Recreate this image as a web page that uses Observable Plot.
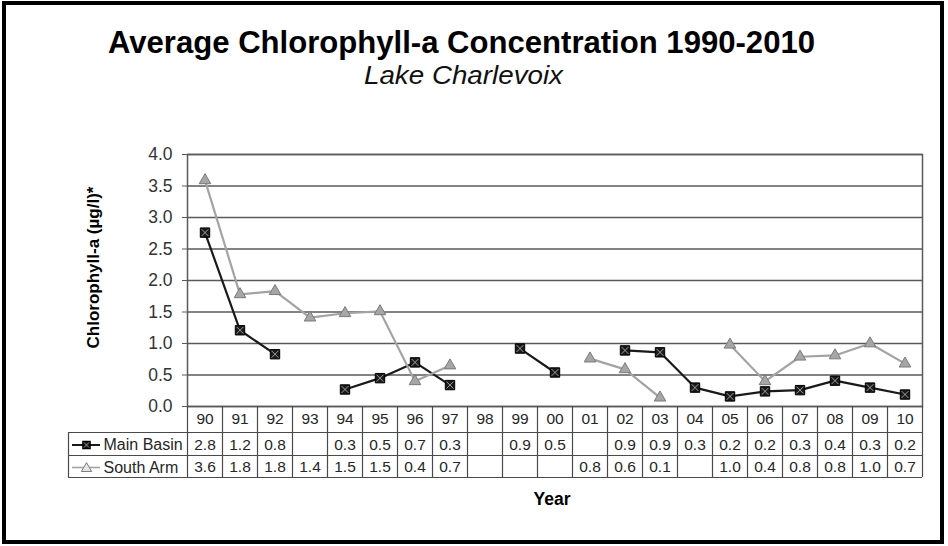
<!DOCTYPE html>
<html><head><meta charset="utf-8">
<script src="https://cdn.jsdelivr.net/npm/d3@7"></script>
<script src="https://cdn.jsdelivr.net/npm/@observablehq/plot@0.6"></script>
<style>
html,body{margin:0;padding:0;background:#fff;}
#wrap{position:relative;width:948px;height:546px;overflow:hidden;font-family:"Liberation Sans",Arial,sans-serif;background:#fff;}
#border{position:absolute;left:2px;top:1px;width:942px;height:543px;border:4px solid #000;box-sizing:border-box;}
.t{position:absolute;white-space:nowrap;line-height:1;transform-origin:0 0;color:#000;}
#title{font-size:31px;font-weight:bold;}
#subtitle{font-size:26px;font-style:italic;color:#111;}
#chart{position:absolute;left:0;top:0;}
</style></head><body>
<div id="wrap"><div id="chart"></div><div id="border"></div>
<div id="title" class="t">Average Chlorophyll-a Concentration 1990-2010</div>
<div id="subtitle" class="t">Lake Charlevoix</div></div>
<script>
// ---- data ----
const years = ["90","91","92","93","94","95","96","97","98","99","00","01","02","03","04","05","06","07","08","09","10"];
const mainBasin = [2.76,1.21,0.83,null,0.27,0.45,0.70,0.34,null,0.92,0.54,null,0.89,0.86,0.30,0.16,0.24,0.26,0.41,0.30,0.19];
const southArm  = [3.59,1.78,1.83,1.41,1.48,1.51,0.40,0.65,null,null,null,0.76,0.59,0.14,null,0.98,0.40,0.79,0.81,1.00,0.68];
const mainBasinLabels = ["2.8","1.2","0.8","","0.3","0.5","0.7","0.3","","0.9","0.5","","0.9","0.9","0.3","0.2","0.2","0.3","0.4","0.3","0.2"];
const southArmLabels  = ["3.6","1.8","1.8","1.4","1.5","1.5","0.4","0.7","","","","0.8","0.6","0.1","","1.0","0.4","0.8","0.8","1.0","0.7"];
const yTicks = [0,0.5,1,1.5,2,2.5,3,3.5,4];
const seriesNames = ["Main Basin","South Arm"];

// ---- layout ----
const W=948,H=546,mL=187,mR=26,mT=154,mB=140;
const rowText=[13,38.5,61];   // offsets below the zero line (table rows)
const rowLine=[26,49,71];
const legendLeft=68;
const font='"Liberation Sans",Arial,sans-serif';
const ink="#222", grid="#5a5a5a", tline="#4a4a4a";
const mbColor="#1a1a1a", saStroke="#a3a3a3", saFill="#a6a6a6", saEdge="#7a7a7a";

const rows = years.map((y,i)=>({i, year:y, mb:mainBasin[i], sa:southArm[i], mbl:mainBasinLabels[i], sal:southArmLabels[i]}));
const bounds = d3.range(years.length+1).map(k=>k-0.5);
const x0 = -0.5;

const plot = Plot.plot({
  width:W, height:H, marginLeft:mL, marginRight:mR, marginTop:mT, marginBottom:mB,
  x:{domain:[-0.5, years.length-0.5], axis:null},
  y:{domain:[0,4], axis:null},
  style:{fontFamily:font, background:"transparent", overflow:"visible", color:ink},
  marks:[
    // grid + frame
    Plot.ruleY(yTicks, {stroke:grid, strokeWidth:1.5}),
    Plot.frame({stroke:grid, strokeWidth:1.5}),
    Plot.axisY({ticks:yTicks, tickFormat:d=>d.toFixed(1), tickSize:5, tickPadding:10, fontSize:17.5, label:null, stroke:grid, fill:"#333"}),
    // table lines
    Plot.ruleX(bounds, {y1:0, y2:0, insetBottom:-rowLine[2], stroke:tline, strokeWidth:1.2}),
    Plot.ruleX([x0], {y1:0, y2:0, insetTop:rowLine[0], insetBottom:-rowLine[2], dx:legendLeft-mL, stroke:tline, strokeWidth:1.2}),
    ...rowLine.map(o=>Plot.ruleY([0], {dy:o, insetLeft:legendLeft-mL, stroke:tline, strokeWidth:1.2})),
    // table text
    Plot.text(rows, {x:"i", text:"year", frameAnchor:"bottom", lineAnchor:"middle", dy:rowText[0], fontSize:15.5, fill:"#262626"}),
    Plot.text(rows, {x:"i", text:"mbl", frameAnchor:"bottom", lineAnchor:"middle", dy:rowText[1], fontSize:15.5, fill:"#262626"}),
    Plot.text(rows, {x:"i", text:"sal", frameAnchor:"bottom", lineAnchor:"middle", dy:rowText[2], fontSize:15.5, fill:"#262626"}),
    // legend in table
    Plot.ruleY([0], {x1:x0, x2:x0, insetLeft:-115, insetRight:87, dy:rowText[1], stroke:mbColor, strokeWidth:2}),
    Plot.dot([0], {x:x0, y:0, dx:-101, dy:rowText[1], symbol:"square", r:4, fill:mbColor, stroke:"#000"}),
    Plot.dot([0], {x:x0, y:0, dx:-101, dy:rowText[1], symbol:"times", r:2.5, stroke:"#bbb", strokeWidth:0.7}),
    Plot.ruleY([0], {x1:x0, x2:x0, insetLeft:-115, insetRight:87, dy:rowText[2], stroke:saStroke, strokeWidth:1.6}),
    Plot.dot([0], {x:x0, y:0, dx:-101, dy:rowText[2]+1, symbol:"triangle", r:3.8, fill:"#e6e6e6", stroke:saEdge, strokeWidth:1}),
    Plot.text([seriesNames[0]], {x:x0, y:0, dx:-84, dy:rowText[1], textAnchor:"start", lineAnchor:"middle", fontSize:16, fill:"#262626"}),
    Plot.text([seriesNames[1]], {x:x0, y:0, dx:-84, dy:rowText[2], textAnchor:"start", lineAnchor:"middle", fontSize:16, fill:"#262626"}),
    // series
    Plot.line(rows, {x:"i", y:"mb", stroke:mbColor, strokeWidth:2.2}),
    Plot.dot(rows, {x:"i", y:"mb", symbol:"square", r:5.3, fill:mbColor, stroke:"#000", strokeWidth:1}),
    Plot.dot(rows, {x:"i", y:"mb", symbol:"times", r:3.2, stroke:"#bdbdbd", strokeWidth:0.8}),
    Plot.line(rows, {x:"i", y:"sa", stroke:saStroke, strokeWidth:2.2}),
    Plot.dot(rows, {x:"i", y:"sa", symbol:"triangle", r:4.3, fill:saFill, stroke:saEdge, strokeWidth:1}),
    // axis titles
    Plot.text(["Chlorophyll-a (µg/l)*"], {frameAnchor:"left", textAnchor:"middle", lineAnchor:"middle", rotate:-90, dx:-94, dy:-13, fontWeight:"bold", fontSize:17, fill:"#000"}),
    Plot.text(["Year"], {frameAnchor:"bottom", textAnchor:"middle", lineAnchor:"middle", dy:93, dx:-3, fontWeight:"bold", fontSize:17.5, fill:"#000"})
  ]
});
document.getElementById("chart").appendChild(plot);

// place titles: center, width target, baseline
function place(id, cx, targetW, baseline){
  const el=document.getElementById(id);
  const r=el.getBoundingClientRect();
  const fs=parseFloat(getComputedStyle(el).fontSize);
  const s=targetW/r.width;
  el.style.left=(cx-targetW/2)+"px";
  el.style.top=(baseline-0.8465*fs)+"px";
  el.style.transform="scaleX("+s+")";
}
place("title", 461.5, 707, 53.5);
place("subtitle", 463, 199, 84);
</script>
</body></html>
